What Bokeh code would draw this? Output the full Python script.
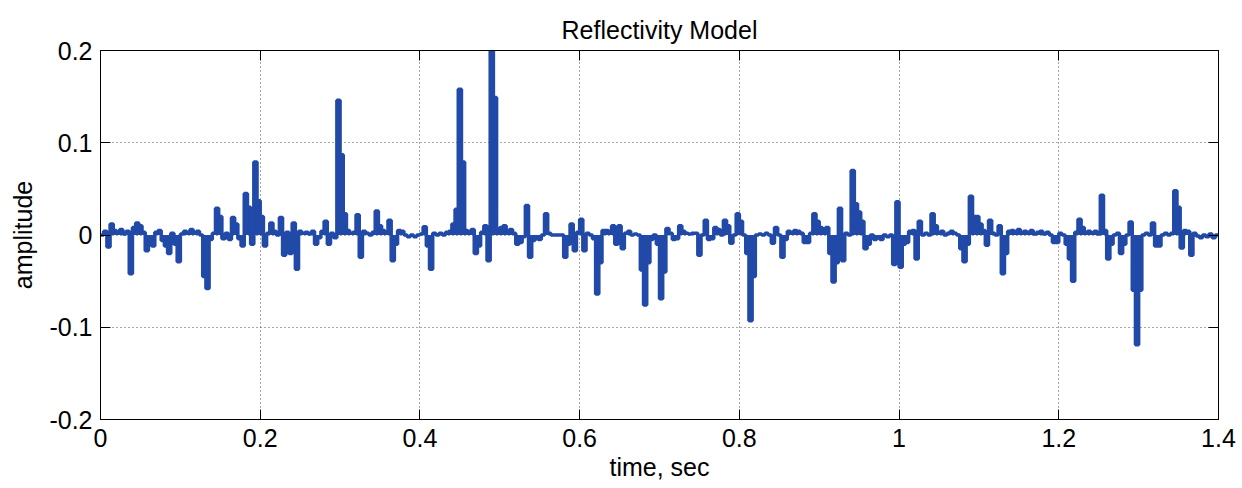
import numpy as np
from bokeh.plotting import figure
from bokeh.models import Range1d, LinearAxis, FixedTicker
from bokeh.embed import file_html
from bokeh.resources import INLINE

# ---- data ----
sample_interval = 0.004  # seconds between samples
reflectivity = [
    0.000, 0.004, -0.013, 0.012, 0.005, 0.002, 0.006, 0.001, 0.004, -0.042,
    0.008, 0.013, 0.010, 0.003, -0.017, -0.008, -0.012, 0.003, 0.005, -0.006,
    -0.012, -0.020, 0.002, -0.010, -0.029, 0.001, 0.004, 0.002, 0.006, 0.003,
    0.004, 0.000, -0.045, -0.058, -0.005, 0.002, 0.029, 0.020, -0.004, 0.002,
    -0.005, 0.019, 0.012, -0.004, -0.012, 0.045, 0.030, -0.010, 0.079, 0.037,
    0.020, -0.012, 0.002, 0.013, 0.004, 0.000, 0.019, -0.022, 0.003, -0.020,
    0.013, -0.037, 0.004, 0.002, 0.003, 0.001, 0.004, -0.010, -0.003, 0.004,
    0.015, -0.010, 0.002, -0.003, 0.146, 0.087, 0.023, 0.005, 0.002, 0.003,
    0.022, -0.024, 0.004, 0.002, 0.000, 0.003, 0.026, 0.010, 0.005, 0.003,
    0.016, -0.028, -0.010, 0.005, 0.004, 0.000, -0.002, 0.000, -0.002, 0.000,
    0.001, 0.009, -0.012, -0.037, 0.002, 0.000, 0.002, 0.000, 0.003, 0.004,
    0.012, 0.028, 0.158, 0.079, 0.005, 0.003, 0.006, -0.020, -0.012, 0.003,
    0.010, -0.028, 0.200, 0.149, 0.005, 0.008, 0.010, 0.005, 0.006, 0.002,
    -0.010, -0.008, -0.002, 0.032, -0.024, -0.006, -0.004, -0.005, 0.000, 0.023,
    0.002, 0.000, 0.000, 0.000, 0.000, -0.024, -0.010, 0.012, -0.017, 0.003,
    0.017, -0.017, 0.002, 0.000, -0.004, -0.064, -0.030, 0.005, 0.005, 0.004,
    0.010, -0.010, 0.010, -0.015, 0.002, 0.004, 0.000, 0.001, 0.000, -0.038,
    -0.076, -0.030, -0.005, 0.000, -0.010, -0.069, -0.040, 0.007, 0.002, -0.005,
    -0.004, 0.010, 0.004, 0.002, 0.001, 0.002, 0.002, -0.022, 0.000, 0.016,
    -0.005, -0.004, 0.008, 0.006, 0.000, 0.016, 0.010, -0.009, 0.000, 0.023,
    0.015, 0.000, -0.020, -0.093, -0.045, 0.000, 0.001, 0.000, 0.002, 0.000,
    -0.009, 0.008, 0.000, -0.024, -0.005, 0.004, 0.003, 0.005, 0.004, 0.002,
    -0.008, -0.008, 0.002, 0.023, 0.015, 0.008, 0.006, 0.008, -0.020, -0.051,
    -0.030, 0.029, -0.028, 0.002, 0.000, 0.070, 0.034, 0.025, 0.015, -0.015,
    -0.010, 0.000, -0.005, -0.003, -0.005, 0.000, -0.002, 0.000, -0.032, 0.036,
    -0.035, -0.010, -0.008, 0.004, 0.005, -0.026, 0.015, 0.000, 0.002, 0.000,
    0.023, 0.010, 0.003, 0.004, 0.000, 0.002, 0.004, 0.002, 0.000, -0.015,
    -0.029, -0.010, 0.042, 0.020, 0.020, 0.012, 0.005, -0.011, 0.016, 0.002,
    0.000, 0.010, -0.042, -0.020, 0.004, 0.005, 0.003, 0.006, 0.002, 0.004,
    0.002, 0.005, 0.001, 0.003, 0.004, 0.001, 0.003, 0.000, -0.008, -0.008,
    0.002, 0.000, -0.010, -0.026, -0.050, 0.003, 0.017, 0.008, 0.003, 0.004,
    0.002, 0.004, 0.001, 0.043, 0.005, -0.026, -0.010, 0.000, 0.002, -0.020,
    -0.010, 0.000, 0.014, -0.060, -0.119, -0.060, 0.000, 0.002, 0.000, 0.013,
    -0.012, -0.012, 0.000, 0.002, 0.000, 0.002, 0.048, 0.030, -0.014, 0.005,
    0.004, -0.022, 0.002, -0.001, -0.003, 0.000, -0.002, 0.001, -0.003, 0.000,
    -0.002,
]
x_ticks = [0, 0.2, 0.4, 0.6, 0.8, 1.0, 1.2, 1.4]
x_tick_labels = ["0", "0.2", "0.4", "0.6", "0.8", "1", "1.2", "1.4"]
y_ticks = [-0.2, -0.1, 0, 0.1, 0.2]
y_tick_labels = ["-0.2", "-0.1", "0", "0.1", "0.2"]

time = np.arange(len(reflectivity)) * sample_interval

FONT = "Liberation Sans"
FS = "25px"
BLUE = "#2149a8"

p = figure(width=1242, height=488, output_backend="svg", toolbar_location=None,
           x_range=Range1d(0, 1.4), y_range=Range1d(-0.2, 0.2),
           min_border_left=100, min_border_right=24,
           min_border_top=50, min_border_bottom=69)
p.background_fill_color = "white"
p.border_fill_color = "white"
p.outline_line_color = "black"
p.outline_line_width = 1

p.title.text = "Reflectivity Model"
p.title.align = "center"
p.title.vertical_align = "top"
p.title.text_font = FONT
p.title.text_font_size = FS
p.title.text_font_style = "normal"
p.title.text_color = "black"
p.title.standoff = 10

p.varea_step(x=time, y1=0, y2=reflectivity, step_mode="after",
             fill_color=BLUE, fill_alpha=1.0)
p.step(time, reflectivity, mode="after", line_color=BLUE, line_width=3.5)

def style_axis(ax, ticks, labels, show_labels=True):
    ax.ticker = FixedTicker(ticks=ticks)
    ax.major_label_overrides = {t: (l if show_labels else "") for t, l in zip(ticks, labels)}
    ax.major_tick_in = 10
    ax.major_tick_out = 0
    ax.minor_tick_in = 0
    ax.minor_tick_out = 0
    ax.axis_line_color = "black"
    ax.major_tick_line_color = "black"
    ax.major_label_text_font = FONT
    ax.major_label_text_font_size = FS if show_labels else "0px"
    ax.major_label_text_color = "black"
    ax.axis_label_text_font = FONT
    ax.axis_label_text_font_size = FS
    ax.axis_label_text_font_style = "normal"
    ax.axis_label_text_color = "black"

xa = p.xaxis[0]
style_axis(xa, x_ticks, x_tick_labels)
xa.axis_label = "time, sec"
xa.major_label_standoff = 9
xa.axis_label_standoff = 3

ya = p.yaxis[0]
style_axis(ya, y_ticks, y_tick_labels)
ya.axis_label = "amplitude"
ya.major_label_standoff = 8
ya.axis_label_standoff = 9

top_ax = LinearAxis()
style_axis(top_ax, x_ticks, x_tick_labels, show_labels=False)
p.add_layout(top_ax, "above")
right_ax = LinearAxis()
style_axis(right_ax, y_ticks, y_tick_labels, show_labels=False)
p.add_layout(right_ax, "right")

p.xgrid.ticker = FixedTicker(ticks=x_ticks)
p.ygrid.ticker = FixedTicker(ticks=y_ticks)
for g in (p.xgrid[0], p.ygrid[0]):
    g.grid_line_color = "black"
    g.grid_line_alpha = 0.7
    g.grid_line_dash = "1 3"
    g.grid_line_width = 1

open("out.html", "w").write(file_html(p, INLINE))
